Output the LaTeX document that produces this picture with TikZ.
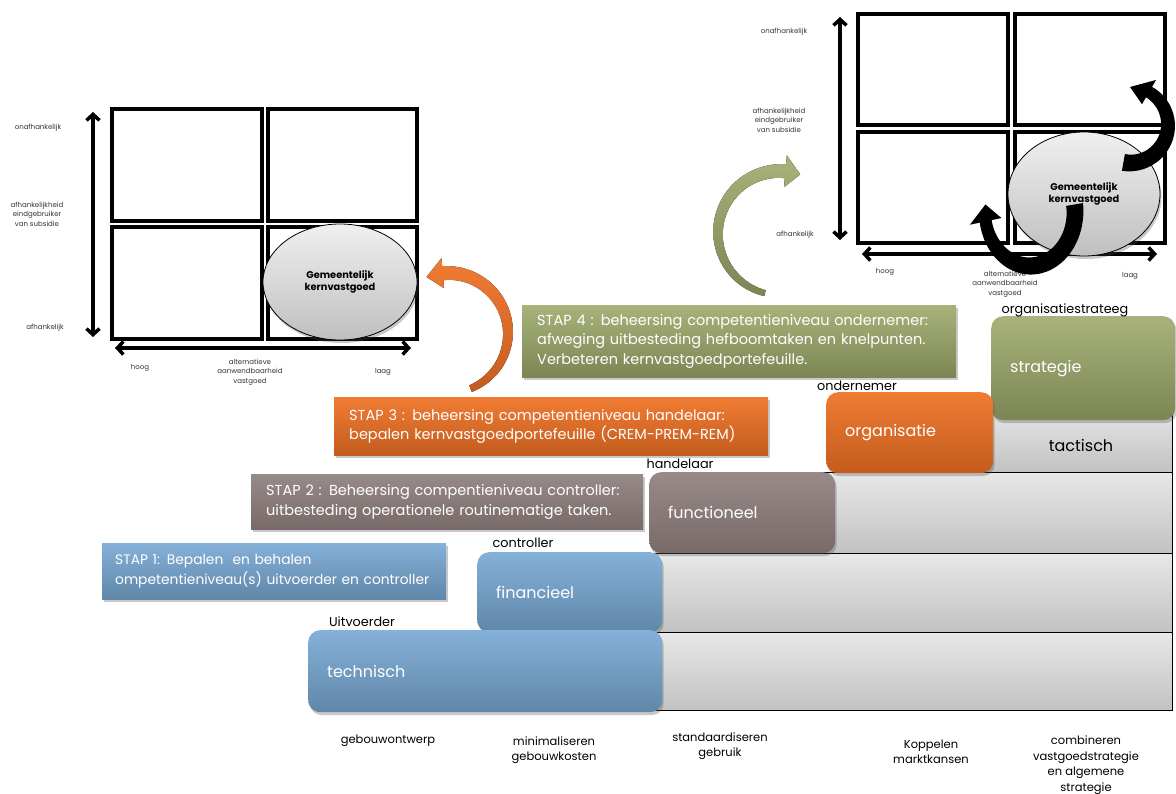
\documentclass[tikz,border=0pt]{standalone}
\usepackage{fontspec}
\setmainfont{Poppins}
\usetikzlibrary{arrows.meta,shadows,shapes.geometric}

\definecolor{bluetop}{HTML}{85B0D8}
\definecolor{bluebot}{HTML}{5F87A9}
\definecolor{browntop}{HTML}{978A88}
\definecolor{brownbot}{HTML}{786A68}
\definecolor{orangetop}{HTML}{F07C33}
\definecolor{orangebot}{HTML}{C45C1E}
\definecolor{olivetop}{HTML}{A8B27A}
\definecolor{olivebot}{HTML}{7B8654}
\definecolor{bandtop}{HTML}{E8E8E8}
\definecolor{bandbot}{HTML}{C2C2C2}
\definecolor{labelgray}{HTML}{333333}

\tikzset{
  softshadow/.style={drop shadow={shadow xshift=1.5pt,shadow yshift=-3pt,opacity=0.3,fill=black!70}},
  stapbox/.style={rectangle,anchor=north west,inner xsep=15pt,align=left,
    text=white,font=\fontsize{14.5}{19.5}\selectfont,softshadow},
  stepbox/.style={rectangle,rounded corners=12pt,anchor=north west,inner xsep=19pt,
    align=left,text=white,font=\fontsize{16}{18}\selectfont,softshadow},
  bluefill/.style={top color=bluetop,bottom color=bluebot},
  brownfill/.style={top color=browntop,bottom color=brownbot},
  orangefill/.style={top color=orangetop,bottom color=orangebot},
  olivefill/.style={top color=olivetop,bottom color=olivebot},
  band/.style={draw=black,line width=1pt,top color=bandtop,bottom color=bandbot},
  rolelabel/.style={font=\fontsize{12.8}{14}\selectfont,text=black},
  goallabel/.style={font=\fontsize{11.5}{15.5}\selectfont,align=center,text=black},
  cell/.style={draw=black,line width=3.5pt,fill=white},
  axis/.style={line width=3.5pt,{Straight Barb[length=6pt,width=13pt]}-{Straight Barb[length=6pt,width=13pt]}},
  axislabel/.style={font=\fontsize{7}{9.5}\selectfont,align=center,text=labelgray},
  core/.style={ellipse,draw=black,line width=0.8pt,top color=white!94!black,bottom color=black!25,
    font=\bfseries\fontsize{9.8}{12.5}\selectfont,align=center,softshadow},
  bentfill/.style={fill=black}
}

% tapered arc arrow: centre x, centre y, radius, start angle, end angle,
% start width, end width, head half-width, head length (signed, degrees)
\newcommand\bentarrow[9]{%
  \fill[bentfill]
    plot[domain=#4:#5,samples=50]
      ({#1+(#3+(#6+(#7-#6)*(\x-(#4))/((#5)-(#4)))/2)*cos(\x)},
       {#2+(#3+(#6+(#7-#6)*(\x-(#4))/((#5)-(#4)))/2)*sin(\x)})
    -- ({#1+(#3+#8)*cos(#5)},{#2+(#3+#8)*sin(#5)})
    -- ({#1+#3*cos(#5+#9)},{#2+#3*sin(#5+#9)})
    -- ({#1+(#3-#8)*cos(#5)},{#2+(#3-#8)*sin(#5)})
    -- plot[domain=#5:#4,samples=50]
      ({#1+(#3-(#6+(#7-#6)*(\x-(#4))/((#5)-(#4)))/2)*cos(\x)},
       {#2+(#3-(#6+(#7-#6)*(\x-(#4))/((#5)-(#4)))/2)*sin(\x)})
    -- cycle;}

\begin{document}
\begin{tikzpicture}[x=1pt,y=-1pt]
\useasboundingbox (0,0) rectangle (1176,794);

% ---------------- left portfolio matrix ----------------
\draw[cell] (112,109) rectangle (262,221);
\draw[cell] (268,109) rectangle (417,221);
\draw[cell] (112,227) rectangle (262,339);
\draw[cell] (268,227) rectangle (417,339);
\coordinate (lvt) at (93,112);
\coordinate (lvb) at (93,337);
\coordinate (lhl) at (115,348);
\coordinate (lhr) at (411,348);
\draw[axis] (lvt) -- (lvb);
\draw[axis] (lhl) -- (lhr);
\node[core,minimum width=154pt,minimum height=116pt] (coreL) at (340,282) {Gemeentelijk\\kernvastgoed};
\node[axislabel] (lonaf) at (38,128) {onafhankelijk};
\node[axislabel] (lmid) at (37,214) {afhankelijkheid\\eindgebruiker\\van subsidie};
\node[axislabel] (laf) at (45,328) {afhankelijk};
\node[axislabel] (lhoog) at (140,368) {hoog};
\node[axislabel] (lalt) at (250,372) {alternatieve\\aanwendbaarheid\\vastgoed};
\node[axislabel] (llaag) at (383,372) {laag};

% ---------------- right portfolio matrix ----------------
\draw[cell] (858,14) rectangle (1008,125);
\draw[cell] (1015,14) rectangle (1165,125);
\draw[cell] (858,132) rectangle (1008,243);
\draw[cell] (1015,132) rectangle (1165,243);
\coordinate (rvt) at (840,17);
\coordinate (rvb) at (840,240);
\coordinate (rhl) at (862,254);
\coordinate (rhr) at (1157,254);
\draw[axis] (rvt) -- (rvb);
\draw[axis] (rhl) -- (rhr);
\node[core,minimum width=152pt,minimum height=124pt] (coreR) at (1084,194) {Gemeentelijk\\kernvastgoed};
\node[axislabel] (ronaf) at (784,32) {onafhankelijk};
\node[axislabel] (rmid) at (779,120) {afhankelijkheid\\eindgebruiker\\van subsidie};
\node[axislabel] (raf) at (795,235) {afhankelijk};
\node[axislabel] (rhoog) at (885,272) {hoog};
\node[axislabel] (ralt) at (1005,284) {alternatieve\\aanwendbaarheid\\vastgoed};
\node[axislabel] (rlaag) at (1130,276) {laag};

% movements of the core portfolio
\tikzset{bentfill/.style={fill=black}}
\begin{scope}[shift={(1030,212)},yscale=1.2]
  \bentarrow{0}{0}{45}{-8}{170}{17}{12}{16}{18}
\end{scope}
\bentarrow{1130}{125}{38}{100}{-60}{17}{12}{14}{-30}

% ---------------- competence levels ----------------
\draw[band] (900,405) rectangle (1172,472);
\draw[band] (700,472) rectangle (1172,553);
\draw[band] (540,553) rectangle (1172,632);
\draw[band] (420,632) rectangle (1172,710);
\node[font=\fontsize{16}{18}\selectfont] (tact) at (1081,445) {tactisch};

\node[stepbox,olivefill,minimum width=184pt,minimum height=104pt,text width=146pt] (strat) at (991,316) {strategie};
\node[stepbox,orangefill,minimum width=167pt,minimum height=81pt,text width=129pt] (org) at (826,392) {organisatie};
\node[stepbox,brownfill,minimum width=186pt,minimum height=81pt,text width=148pt] (func) at (649,472) {functioneel};
\node[stepbox,bluefill,minimum width=185pt,minimum height=80pt,text width=147pt] (fin) at (477,552) {financieel};
\node[stepbox,bluefill,minimum width=354pt,minimum height=82pt,text width=316pt] (tech) at (308,630) {technisch};

\node[rolelabel] (ruit) at (362,622) {Uitvoerder};
\node[rolelabel] (rcon) at (523,543) {controller};
\node[rolelabel] (rhan) at (680,464) {handelaar};
\node[rolelabel] (rond) at (857,386) {ondernemer};
\node[rolelabel] (rorg) at (1065,310) {organisatiestrateeg};

% ---------------- steps ----------------
\node[stapbox,bluefill,inner xsep=13pt,font=\fontsize{13.8}{19.5}\selectfont,
      minimum width=344pt,minimum height=56pt,text width=318pt] (s1) at (102,543)
  {\mbox{STAP 1: Bepalen\ \ en behalen}\\\mbox{ompetentieniveau(s) uitvoerder en controller}};
\node[stapbox,brownfill,minimum width=392pt,minimum height=55pt,text width=362pt] (s2) at (251,474)
  {STAP 2 : Beheersing compentieniveau controller:\\uitbesteding operationele routinematige taken.};
\node[stapbox,orangefill,minimum width=434pt,minimum height=58pt,text width=404pt] (s3) at (334,397)
  {STAP 3 : beheersing competentieniveau handelaar:\\bepalen kernvastgoedportefeuille (CREM-PREM-REM)};
\node[stapbox,olivefill,minimum width=434pt,minimum height=72pt,text width=404pt] (s4) at (522,305)
  {STAP 4 : beheersing competentieniveau ondernemer:\\afweging uitbesteding hefboomtaken en knelpunten.\\Verbeteren kernvastgoedportefeuille.};

% links from the steps back to the matrices
\tikzset{bentfill/.style={top color=orangetop,bottom color=orangebot}}
\bentarrow{448}{333}{60}{68}{-95}{7}{14}{15}{-16}
\tikzset{bentfill/.style={top color=olivetop,bottom color=olivebot}}
\bentarrow{780}{233}{62}{104}{275}{6}{14}{16}{14}

% ---------------- goals ----------------
\node[goallabel] (g1) at (388,741) {gebouwontwerp};
\node[goallabel] (g2) at (554,750) {minimaliseren\\gebouwkosten};
\node[goallabel] (g3) at (720,746) {standaardiseren\\gebruik};
\node[goallabel] (g4) at (931,752) {Koppelen\\marktkansen};
\node[goallabel] (g5) at (1086,765) {combineren\\vastgoedstrategie\\en algemene\\strategie};
\end{tikzpicture}
\end{document}
